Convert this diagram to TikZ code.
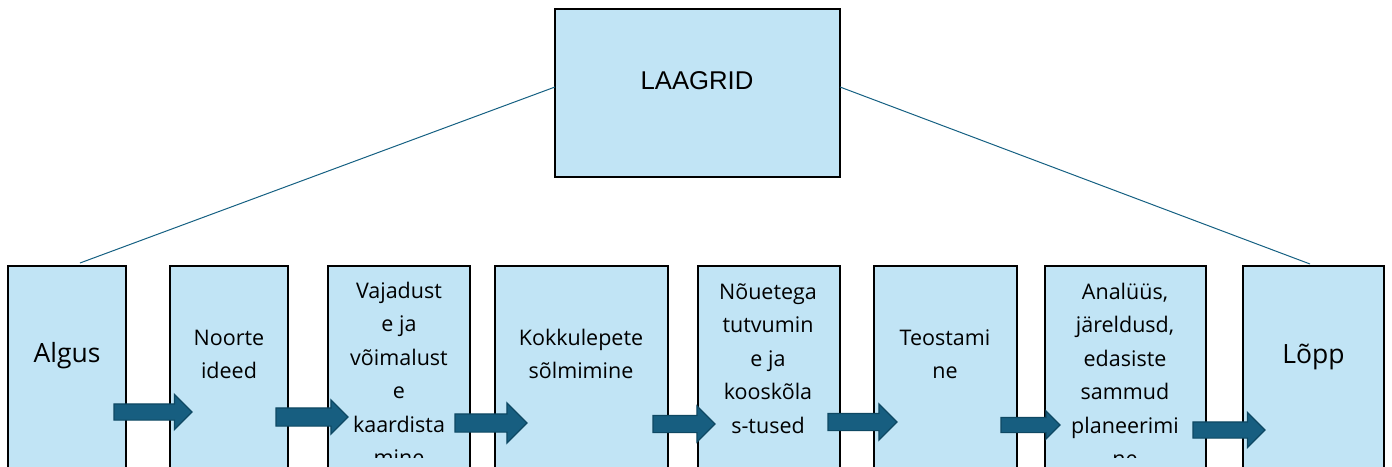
\documentclass[tikz,border=0pt]{standalone}
\usepackage{fontspec}
\setmainfont{Open Sans}
\newfontfamily\arialfont{Liberation Sans}
\usetikzlibrary{shapes.arrows}
\definecolor{boxfill}{HTML}{C1E4F5}
\definecolor{linecol}{HTML}{156082}
\definecolor{arrfill}{HTML}{175E80}
\definecolor{arrdraw}{HTML}{0E4863}
\tikzset{
  box/.style={draw=black, line width=1.3pt, fill=boxfill, inner sep=0pt, outer sep=0pt},
  conn/.style={draw=linecol, line width=1pt},
  barrow/.style={single arrow, draw=arrdraw, fill=arrfill, line width=1.2pt,
    inner xsep=0pt, outer sep=0pt, anchor=tail, single arrow tip angle=90},
  lbl/.style={anchor=base, inner sep=0pt, font=\fontsize{21.5}{33.5}\selectfont},
  big/.style={anchor=base, inner sep=0pt, font=\fontsize{26.5}{32}\selectfont}
}
\newcommand{\lines}[1]{\begin{tabular}[t]{@{}c@{}}#1\end{tabular}}
\begin{document}
\begin{tikzpicture}[x=1pt,y=-1pt]
\useasboundingbox (0,0) rectangle (1392,466);
\clip (0,0) rectangle (1392,466);
% top box
\node[box, line width=1.5pt, minimum width=285pt, minimum height=168pt] (top) at (697.5,93) {};
\node[anchor=base, inner sep=0pt, font=\arialfont\fontsize{25.7}{30}\selectfont] (toplbl) at (697,89) {LAAGRID};
% bottom boxes
\node[box, minimum width=118pt, minimum height=214pt] (b1) at (67,373) {};
\node[box, minimum width=118pt, minimum height=214pt] (b2) at (229,373) {};
\node[box, minimum width=142pt, minimum height=214pt] (b3) at (399,373) {};
\node[box, minimum width=173pt, minimum height=214pt] (b4) at (581.5,373) {};
\node[box, minimum width=142pt, minimum height=214pt] (b5) at (769,373) {};
\node[box, minimum width=143pt, minimum height=214pt] (b6) at (945.5,373) {};
\node[box, minimum width=161pt, minimum height=214pt] (b7) at (1125.5,373) {};
\node[box, minimum width=141pt, minimum height=214pt] (b8) at (1313.5,373) {};
% connectors from top box
\coordinate (tl) at (555,87);
\coordinate (tr) at (840,87);
\coordinate (bl) at (80,263);
\coordinate (br) at (1310,264);
\draw[conn] (tl) -- (bl);
\draw[conn] (tr) -- (br);
% block arrows
\node[barrow, minimum height=78pt, inner ysep=7.5pt, single arrow head extend=9.5pt] (a1) at (114,412) {};
\node[barrow, minimum height=72pt, inner ysep=8.5pt, single arrow head extend=8pt] (a2) at (276,417) {};
\node[barrow, minimum height=72pt, inner ysep=8.5pt, single arrow head extend=11pt] (a3) at (455,423) {};
\node[barrow, minimum height=62pt, inner ysep=8pt, single arrow head extend=9.5pt] (a4) at (653,424) {};
\node[barrow, minimum height=69pt, inner ysep=8pt, single arrow head extend=9.5pt] (a5) at (828,422) {};
\node[barrow, minimum height=59pt, inner ysep=7pt, single arrow head extend=6.5pt] (a6) at (1001,425) {};
\node[barrow, minimum height=72pt, inner ysep=7.5pt, single arrow head extend=9.5pt] (a7) at (1193,430) {};
% labels
\node[big] (t1) at (67,362) {Algus};
\node[big] (t8) at (1313.5,363) {Lõpp};
\begin{scope}
\clip (0,0) rectangle (1392,457);
\node[lbl] (t2) at (229,345) {\lines{Noorte\\ideed}};
\node[lbl] (t3) at (399,298) {\lines{Vajadust\\e ja\\võimalust\\e\\kaardista\\mine}};
\node[lbl] (t4) at (581,345) {\lines{Kokkulepete\\sõlmimine}};
\node[lbl] (t5) at (768,299) {\lines{Nõuetega\\tutvumin\\e ja\\kooskõla\\s-tused}};
\node[lbl] (t6) at (945,345) {\lines{Teostami\\ne}};
\node[lbl] (t7) at (1125,299) {\lines{Analüüs,\\järeldusd,\\edasiste\\sammud\\planeerimi\\ne}};
\end{scope}
\end{tikzpicture}
\end{document}
